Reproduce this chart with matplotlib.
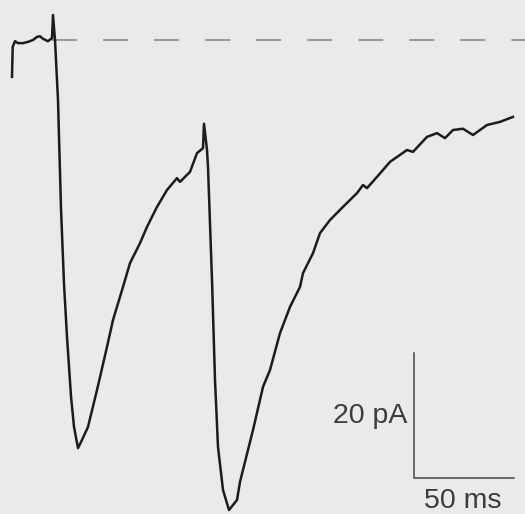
import matplotlib
matplotlib.use("Agg")
import matplotlib.pyplot as plt

# paired-pulse EPSC trace, time in ms, current in pA (baseline = 0)
time_ms = [0, 0.35, 1.5, 3, 5.5, 8, 10.5, 12.5, 14, 15.5, 18, 20, 20.5, 21.5,
           23, 24.5, 26, 27.5, 29.5, 31, 33, 35, 38, 42.5, 47.5, 50.5, 55.5, 59,
           64, 67.5, 72.5, 77.5, 82.5, 84, 89, 92.5, 95.5, 96, 97.5, 98, 100,
           101.5, 103, 105.5, 108.5, 112.5, 114, 120.5, 125.5, 129, 134, 139,
           144, 145.5, 150.5, 154, 159, 165.5, 172.5, 175.5, 177.5, 182.5, 189,
           197.5, 200.5, 207.5, 212.5, 216.5, 220.5, 225.5, 230.5, 237.5, 244,
           250.5]
current_pA = [-5.9, -1.1, -0.2, -0.5, -0.5, -0.3, 0.0, 0.5, 0.6, 0.2, -0.2, 0.3,
              4.0, 0.0, -9.6, -27.0, -39.0, -47.5, -57.0, -61.9, -65.3, -64.0,
              -61.9, -56.0, -49.1, -44.8, -39.5, -35.7, -32.5, -29.9, -26.7,
              -24.0, -22.1, -22.7, -21.1, -18.1, -17.3, -13.4, -17.6, -20.3,
              -38.4, -54.4, -65.1, -72.0, -75.2, -73.6, -70.7, -62.4, -55.5,
              -52.8, -46.9, -42.7, -39.5, -37.3, -34.1, -30.9, -28.8, -26.7,
              -24.5, -23.2, -23.7, -21.9, -19.5, -17.6, -17.9, -15.5, -14.9,
              -15.7, -14.4, -14.2, -15.2, -13.6, -13.1, -12.3]

# scale bar sizes
bar_pA = 20
bar_ms = 50
bar_t0 = 201
bar_i0 = -70

bg = "#eaeaea"
fig = plt.figure(figsize=(5.25, 5.14), dpi=100, facecolor=bg)
ax = fig.add_axes([0, 0, 1, 1])
ax.set_facecolor(bg)

# baseline reference
base, = ax.plot([20, 260], [0, 0], color="#9a9a9a", lw=1.5)
base.set_dashes((12, 12.5))

ax.plot(time_ms, current_pA, color="#1c1c1c", lw=1.8, solid_joinstyle="round")

# scale bar
ax.plot([bar_t0, bar_t0, bar_t0 + bar_ms],
        [bar_i0 + bar_pA, bar_i0, bar_i0],
        color="#444444", lw=1.1)
ax.text(bar_t0 - 3.5, -61.3, "%d pA" % bar_pA, ha="right", va="baseline",
        fontsize=20.5, family="Liberation Sans", color="#3c3c3c")
ax.text(bar_t0 + bar_ms / 2 - 0.5, -74.9, "%d ms" % bar_ms, ha="center",
        va="baseline", fontsize=20.5, family="Liberation Sans", color="#3c3c3c")

ax.set_xlim(-6, 256.5)
ax.set_ylim(-75.84, 6.4)
ax.axis("off")

fig.savefig("out.png", dpi=100, facecolor=bg)
